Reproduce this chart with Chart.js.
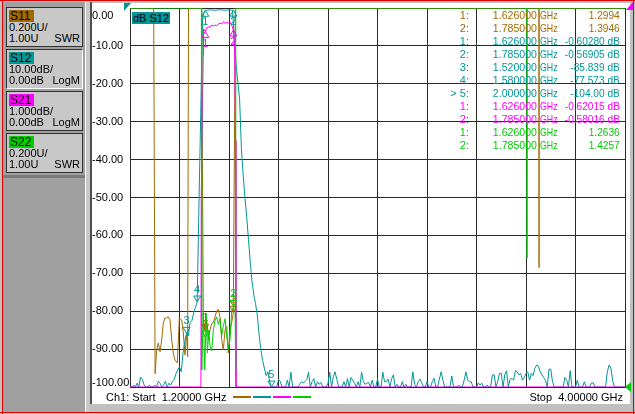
<!DOCTYPE html>
<html><head><meta charset="utf-8">
<script src="https://cdn.jsdelivr.net/npm/chart.js@4.4.1/dist/chart.umd.min.js"></script>
<style>
html,body{margin:0;padding:0;background:#c0c0c0;width:635px;height:414px;overflow:hidden;
  font-family:"Liberation Sans",Arial,sans-serif;font-size:11px;color:#000;}
#wrap{position:relative;width:635px;height:414px;}
.a{position:absolute;}
.btn{position:absolute;left:6px;width:75px;height:38px;background:#c8c8c8;border:1px solid #303030;}
.btn .lab{position:absolute;left:2px;top:2px;width:24px;height:12px;line-height:12px;font-size:12px;padding-left:1px;}
.btn .l2{position:absolute;left:2px;top:13px;height:12px;line-height:12px;white-space:pre;}
.btn .l3{position:absolute;left:2px;right:2px;top:24px;height:12px;line-height:12px;white-space:pre;}
.btn .l3 span.r{position:absolute;right:0;top:0;}
.mk{position:absolute;height:13px;line-height:13px;white-space:pre;}
canvas{position:absolute;left:0;top:0;}
</style></head><body>
<div id="wrap">
  <!-- frame -->
  <div class="a" style="left:0;top:0;width:635px;height:1px;background:#e00000"></div>
  <div class="a" style="left:2px;top:0;width:1px;height:414px;background:#e00000"></div>
  <div class="a" style="left:633px;top:0;width:1px;height:414px;background:#e00000"></div>
  <div class="a" style="left:0;top:412px;width:635px;height:1px;background:#e00000"></div>
  <!-- left panel -->
  <div class="a" style="left:3px;top:2px;width:82px;height:410px;background:#a0a0a0"></div>
  <div class="a" style="left:3px;top:175px;width:82px;height:3px;background:#7a7a7a"></div>
  <div class="a" style="left:85px;top:2px;width:1px;height:410px;background:#ffffff"></div>
  <div class="a" style="left:86px;top:2px;width:4px;height:410px;background:#c8c8c8"></div>
  <div class="a" style="left:90px;top:2px;width:2px;height:402px;background:#505050"></div>
  <!-- plot area background -->
  <div class="a" style="left:92px;top:3px;width:538px;height:401px;background:#ffffff"></div>

  <canvas id="c" width="635" height="414" style="width:635px;height:414px"></canvas>

  <div id="buttons"></div>
  <div id="table"></div>

  <div class="a" style="left:132px;top:12px;height:12px;line-height:12px;background:#009696;color:#000;padding:0 1px;white-space:pre;">dB S12</div>

  <div class="a" style="left:106px;top:391px;height:13px;line-height:13px;white-space:pre;">Ch1: Start  1.20000 GHz</div>
  <div class="a" style="left:525px;top:391px;width:98px;text-align:right;height:13px;line-height:13px;white-space:pre;">Stop  4.00000 GHz</div>
  <div id="legendbar"></div>
</div>
<script>
// ---------- colours ----------
const BROWN = '#a06a00', TEAL = '#009696', MAGENTA = '#ff00ff', GREEN = '#00cc00', GRID = '#2a2a2a';

// ---------- sweep / grid ----------
const START_GHZ = 1.2, STOP_GHZ = 4.0, STEP_GHZ = 0.01;
const gridFreqs = [1.2, 1.48, 1.76, 2.04, 2.32, 2.6, 2.88, 3.16, 3.44, 3.72, 4.0];

// ---------- S12 (dB, 10 dB/div, read every 0.01 GHz from 1.20 to 4.00) ----------
const s12Db = [
 -100,-100,-99.5,-100,-99,-100,-97.4,-98,-99.5,-100,
 -100,-99.5,-100,-100,-99.5,-100,-98.5,-99,-100,-99.5,
 -98.5,-100,-99,-99.5,-98.5,-98,-96.5,-95.5,-94.7,-96,
 -91,-88,-85.8,-86.5,-83,-82.5,-80.5,-79,-77.6,-52,
 -28,-3,-0.9,-0.6,-0.55,-0.5,-0.5,-0.55,-0.6,-0.55,
 -0.5,-0.45,-0.5,-0.55,-0.6,-0.55,-0.5,-0.55,-0.57,-8,
 -15,-19.5,-24,-37,-44,-50,-55,-61,-67,-72,
 -75.5,-78,-81,-86,-90,-93,-95,-97,-96,-98.5,
 -100,-100,-100,-100,-98,-98.5,-100,-100,-100,-98.2,
 -100,-96.1,-100,-100,-100,-100,-99.3,-98.6,-99,-98.5,
 -98,-96.1,-100,-98.6,-97.8,-100,-98.6,-99.3,-98.8,-100,
 -100,-100,-99,-96.1,-100,-97.3,-96,-98,-100,-100,
 -100,-98.6,-100,-97.8,-100,-97.5,-98.2,-99,-100,-98.6,
 -100,-96.1,-98.6,-99.3,-99,-98.8,-100,-98.2,-100,-100,
 -97.9,-100,-100,-96.1,-98.6,-98.6,-97.9,-100,-97.8,-96.8,
 -100,-99.3,-100,-100,-98.6,-100,-99.3,-100,-100,-100,
 -96,-99.3,-100,-98.6,-97.9,-98.8,-100,-100,-98.6,-100,
 -100,-98.6,-97.7,-100,-100,-97.9,-96,-98.2,-100,-100,
 -100,-100,-97.1,-100,-100,-100,-99.5,-100,-100,-98.2,
 -96,-98.2,-98.6,-98.6,-100,-100,-100,-98.9,-99.5,-99,
 -100,-100,-99.5,-100,-100,-96.8,-96.8,-100,-98.6,-96.4,
 -96.4,-100,-96.8,-95.7,-100,-98,-97.7,-98.2,-95.7,-96,
 -96.8,-96.4,-98.2,-97.5,-96.4,-96,-98.2,-96.4,-97,-95.1,
 -94.2,-94.5,-96,-96.8,-97.5,-98.2,-100,-95.3,-95.3,-98.6,
 -100,-100,-100,-100,-100,-100,-97.5,-98.2,-100,-95.7,
 -100,-100,-100,-98.2,-100,-100,-100,-98.6,-100,-100,
 -100,-98.9,-98.9,-100,-100,-100,-100,-100,-100,-100,
 -96,-94.2,-95,-98.2,-100,-100,-100,-100,-100,-100,
 -100
];
const s12Freq = s12Db.map((_, i) => +(START_GHZ + i * STEP_GHZ).toFixed(4));

// ---------- S21 (dB, 1 dB/div; values shown clamped at -10) ----------
const s21Freq = [1.20,1.6010,1.6030,1.6140,1.6160,1.6260,1.6340,1.6430,1.6525,1.6620,1.6710,1.6810,1.6900,
                 1.7000,1.7090,1.7190,1.7280,1.7370,1.7470,1.7560,1.7660,1.7750,1.7850,1.7920,1.7975,1.7995,4.00];
const s21Db   = [-10,-10,-5,-1.25,-0.55,-0.62,-0.52,-0.5,-0.51,-0.45,-0.47,-0.45,-0.47,
                 -0.42,-0.4,-0.42,-0.36,-0.4,-0.38,-0.4,-0.37,-0.45,-0.58,-1.2,-3.5,-10,-10];

// ---------- S11 (SWR, 0.2/div, 1.00 at bottom; values shown clamped at 3.0) ----------
const s11Freq = [1.20,1.3340,1.3420,1.3510,1.3601,1.3697,1.3793,1.3884,1.3980,1.4076,1.4167,1.4263,1.4359,1.4449,
                 1.4545,1.4676,1.4789,1.4925,1.5015,1.5111,1.5207,1.5260,1.5310,1.6050,1.6146,1.6240,1.6339,1.6429,
                 1.6525,1.6622,1.6712,1.6808,1.6904,1.6995,1.7091,1.7187,1.7278,1.7374,1.7470,1.7561,1.7657,1.7753,
                 1.7843,1.7960,3.5131,3.5136,3.5141,4.00];
const s11Swr  = [3,3,1.07,1.195,1.232,1.186,1.248,1.338,1.364,1.364,1.371,1.354,1.248,1.179,
                 1.142,1.127,1.364,1.354,1.285,1.169,1.285,1.16,3,3,1.37,1.30,1.355,1.25,
                 1.30,1.336,1.34,1.37,1.40,1.41,1.37,1.25,1.195,1.30,1.32,1.18,1.30,1.34,
                 1.39,3,3,1.63,3,3];

// ---------- S22 (SWR, 0.2/div, 1.00 at bottom; values shown clamped at 3.0) ----------
const s22Freq = [1.20,1.6040,1.6055,1.6145,1.6230,1.6310,1.6380,1.6460,1.6525,1.6620,1.6712,1.6808,1.6904,1.6995,
                 1.7091,1.7187,1.7278,1.7374,1.7470,1.7561,1.7657,1.7753,1.7843,1.7940,1.7975,1.7990,3.4452,3.4457,3.4462,4.00];
const s22Swr  = [3,3,1.09,1.39,1.09,1.39,1.18,1.30,1.22,1.19,1.30,1.35,1.37,1.33,
                 1.36,1.27,1.32,1.36,1.27,1.20,1.25,1.40,1.42,1.43,1.09,3,3,1.68,3,3];

// ---------- markers ----------
const s11MkFreq = [1.626, 1.785], s11MkVal = [1.2994, 1.3946];
const s12MkFreq = [1.626, 1.785, 1.52, 1.58, 2.0], s12MkVal = [-0.60280, -0.56905, -85.839, -77.573, -104.00];
const s21MkFreq = [1.626, 1.785], s21MkVal = [-0.62015, -0.58016];
const s22MkFreq = [1.626, 1.785], s22MkVal = [1.2636, 1.4257];
const activeS12Marker = 4; // "> 5:"

// ---------- channel buttons ----------
const chanNames  = ['S11', 'S12', 'S21', 'S22'];
const chanColors = [BROWN, TEAL, MAGENTA, GREEN];
const chanScale  = ['0.200U/', '10.00dB/', '1.000dB/', '0.200U/'];
const chanRef    = ['1.00U', '0.00dB', '0.00dB', '1.00U'];
const chanFormat = ['SWR', 'LogM', 'LogM', 'SWR'];

// ===== build HTML parts =====
const FONT = '"Liberation Sans", Arial, sans-serif';
(function buildButtons(){
  const host = document.getElementById('buttons');
  chanNames.forEach((n, i) => {
    const b = document.createElement('div');
    b.className = 'btn';
    b.style.top = (7 + 42 * i) + 'px';
    if (i === 1) { b.style.borderRightColor = '#ffffff'; b.style.borderBottomColor = '#ffffff'; }
    b.innerHTML = '<div class="lab" style="background:' + chanColors[i] + '">' + n + '</div>' +
      '<div class="l2">' + chanScale[i] + '</div>' +
      '<div class="l3"><span>' + chanRef[i] + '</span><span class="r">' + chanFormat[i] + '</span></div>';
    host.appendChild(b);
  });
})();

(function buildTable(){
  const host = document.getElementById('table');
  const rows = [];
  const fmt = v => v.toPrecision(5);
  s11MkFreq.forEach((f, i) => rows.push({c: BROWN, n: (i + 1) + ':', f, v: fmt(s11MkVal[i])}));
  s12MkFreq.forEach((f, i) => rows.push({c: TEAL, n: (i === activeS12Marker ? '> ' : '') + (i + 1) + ':', f, v: fmt(s12MkVal[i]) + ' dB'}));
  s21MkFreq.forEach((f, i) => rows.push({c: MAGENTA, n: (i + 1) + ':', f, v: fmt(s21MkVal[i]) + ' dB'}));
  s22MkFreq.forEach((f, i) => rows.push({c: GREEN, n: (i + 1) + ':', f, v: fmt(s22MkVal[i])}));
  rows.forEach((r, k) => {
    const top = 15 + 13 * k - 6.5;
    const mk = (text, style) => {
      const d = document.createElement('div');
      d.className = 'mk'; d.style.cssText += style + ';top:' + top + 'px;color:' + r.c;
      d.textContent = text; host.appendChild(d);
    };
    mk(r.n, 'right:' + (635 - 469) + 'px');
    mk(r.f.toFixed(6), 'right:' + (635 - 537) + 'px;transform:scaleX(0.96);transform-origin:right center');
    mk('GHz', 'left:540px;transform:scaleX(0.8);transform-origin:left center');
    mk(r.v, 'right:' + (635 - 620) + 'px;transform:scaleX(0.92);transform-origin:right center');
  });
})();

(function buildLegendBar(){
  const host = document.getElementById('legendbar');
  const xs = [233, 253, 273, 293];
  chanColors.forEach((c, i) => {
    const d = document.createElement('div');
    d.className = 'a';
    d.style.cssText = 'left:' + xs[i] + 'px;top:396px;width:18px;height:2px;background:' + c;
    host.appendChild(d);
  });
})();

// ===== chart =====
const xy = (fs, vs) => fs.map((f, i) => ({x: f, y: vs[i]}));

const markerSets = [
  {freqs: s11MkFreq, vals: s11MkVal, axis: 'ySwr', color: BROWN},
  {freqs: s12MkFreq, vals: s12MkVal, axis: 'y',    color: TEAL},
  {freqs: s21MkFreq, vals: s21MkVal, axis: 'yS21', color: MAGENTA},
  {freqs: s22MkFreq, vals: s22MkVal, axis: 'ySwr', color: GREEN},
];

const overlay = {
  id: 'overlay',
  afterDatasetsDraw(chart) {
    const ctx = chart.ctx, a = chart.chartArea, xs = chart.scales.x;
    ctx.save();
    ctx.lineWidth = 1;
    ctx.font = '11px ' + FONT;
    ctx.textAlign = 'center';
    ctx.textBaseline = 'middle';
    markerSets.forEach(ms => {
      const ys = chart.scales[ms.axis];
      ms.freqs.forEach((f, i) => {
        const v = Math.max(ys.min, Math.min(ys.max, ms.vals[i]));
        const px = xs.getPixelForValue(f), py = ys.getPixelForValue(v);
        const below = py < a.top + 30;
        const d = below ? 1 : -1;
        ctx.strokeStyle = ms.color; ctx.fillStyle = ms.color;
        ctx.beginPath();
        ctx.moveTo(px, py);
        ctx.lineTo(px - 3.5, py + 6 * d);
        ctx.lineTo(px + 3.5, py + 6 * d);
        ctx.closePath();
        ctx.stroke();
        ctx.fillText(String(i + 1), px, py + 12 * d);
      });
    });
    // reference position indicators
    ctx.fillStyle = TEAL;
    ctx.beginPath(); ctx.moveTo(a.left - 6, a.top - 5); ctx.lineTo(a.left + 1, a.top - 5); ctx.lineTo(a.left - 6, a.top + 3); ctx.closePath(); ctx.fill();
    ctx.fillStyle = MAGENTA;
    ctx.beginPath(); ctx.moveTo(a.right + 1, a.top + 2); ctx.lineTo(a.right + 8, a.top - 6); ctx.lineTo(a.right + 8, a.top + 2); ctx.closePath(); ctx.fill();
    ctx.fillStyle = GREEN;
    ctx.beginPath(); ctx.moveTo(a.right, a.bottom); ctx.lineTo(a.right + 6, a.bottom - 5); ctx.lineTo(a.right + 6, a.bottom + 5); ctx.closePath(); ctx.fill();
    ctx.restore();
  }
};

const lineDs = (label, data, axis, color, order) => ({
  label, data, yAxisID: axis, borderColor: color, backgroundColor: color,
  borderWidth: 1, pointRadius: 0, tension: 0, fill: false, order
});

// y tick labels: the top one sits just inside the grid, the bottom one slightly above its line
const yTickLabel = v => {
  const s = Number(v).toFixed(2);
  if (v === 0) return ['', s];
  if (v === -100) return [s, ''];
  return s;
};
const yTickFont = ctx => {
  const v = ctx.tick ? ctx.tick.value : null;
  if (v === 0) return {family: FONT, size: 11, lineHeight: 1.45};
  if (v === -100) return {family: FONT, size: 11, lineHeight: 0.75};
  return {family: FONT, size: 11, lineHeight: 1.2};
};

new Chart(document.getElementById('c'), {
  type: 'line',
  data: {
    datasets: [
      lineDs('S22', xy(s22Freq, s22Swr), 'ySwr', GREEN, 0),
      lineDs('S21', xy(s21Freq, s21Db), 'yS21', MAGENTA, 1),
      lineDs('S12', xy(s12Freq, s12Db), 'y', TEAL, 2),
      lineDs('S11', xy(s11Freq, s11Swr), 'ySwr', BROWN, 3),
    ]
  },
  options: {
    responsive: false,
    animation: false,
    devicePixelRatio: 1,
    parsing: false,
    normalized: true,
    layout: {padding: {left: 92, right: 10, top: 8, bottom: 27}},
    plugins: {legend: {display: false}, tooltip: {enabled: false}, title: {display: false}},
    scales: {
      x: {
        type: 'linear', min: START_GHZ, max: STOP_GHZ,
        afterBuildTicks: s => { s.ticks = gridFreqs.map(v => ({value: v})); },
        afterFit: s => { s.height = 0; s.paddingLeft = 0; s.paddingRight = 0; },
        ticks: {display: false},
        grid: {color: GRID, lineWidth: 1, drawTicks: false},
        border: {display: true, color: GRID, width: 1}
      },
      y: {
        type: 'linear', position: 'left', min: -100, max: 0,
        afterFit: s => { s.width = 38; s.paddingTop = 0; s.paddingBottom = 0; },
        ticks: {stepSize: 10, callback: yTickLabel, color: '#000',
                font: yTickFont, crossAlign: 'far', padding: 0},
        grid: {color: GRID, lineWidth: 1, drawTicks: false},
        border: {display: true, color: GRID, width: 1}
      },
      yS21: {type: 'linear', min: -10, max: 0, display: false},
      ySwr: {type: 'linear', min: 1, max: 3, display: false}
    }
  },
  plugins: [overlay]
});
</script>
</body></html>
